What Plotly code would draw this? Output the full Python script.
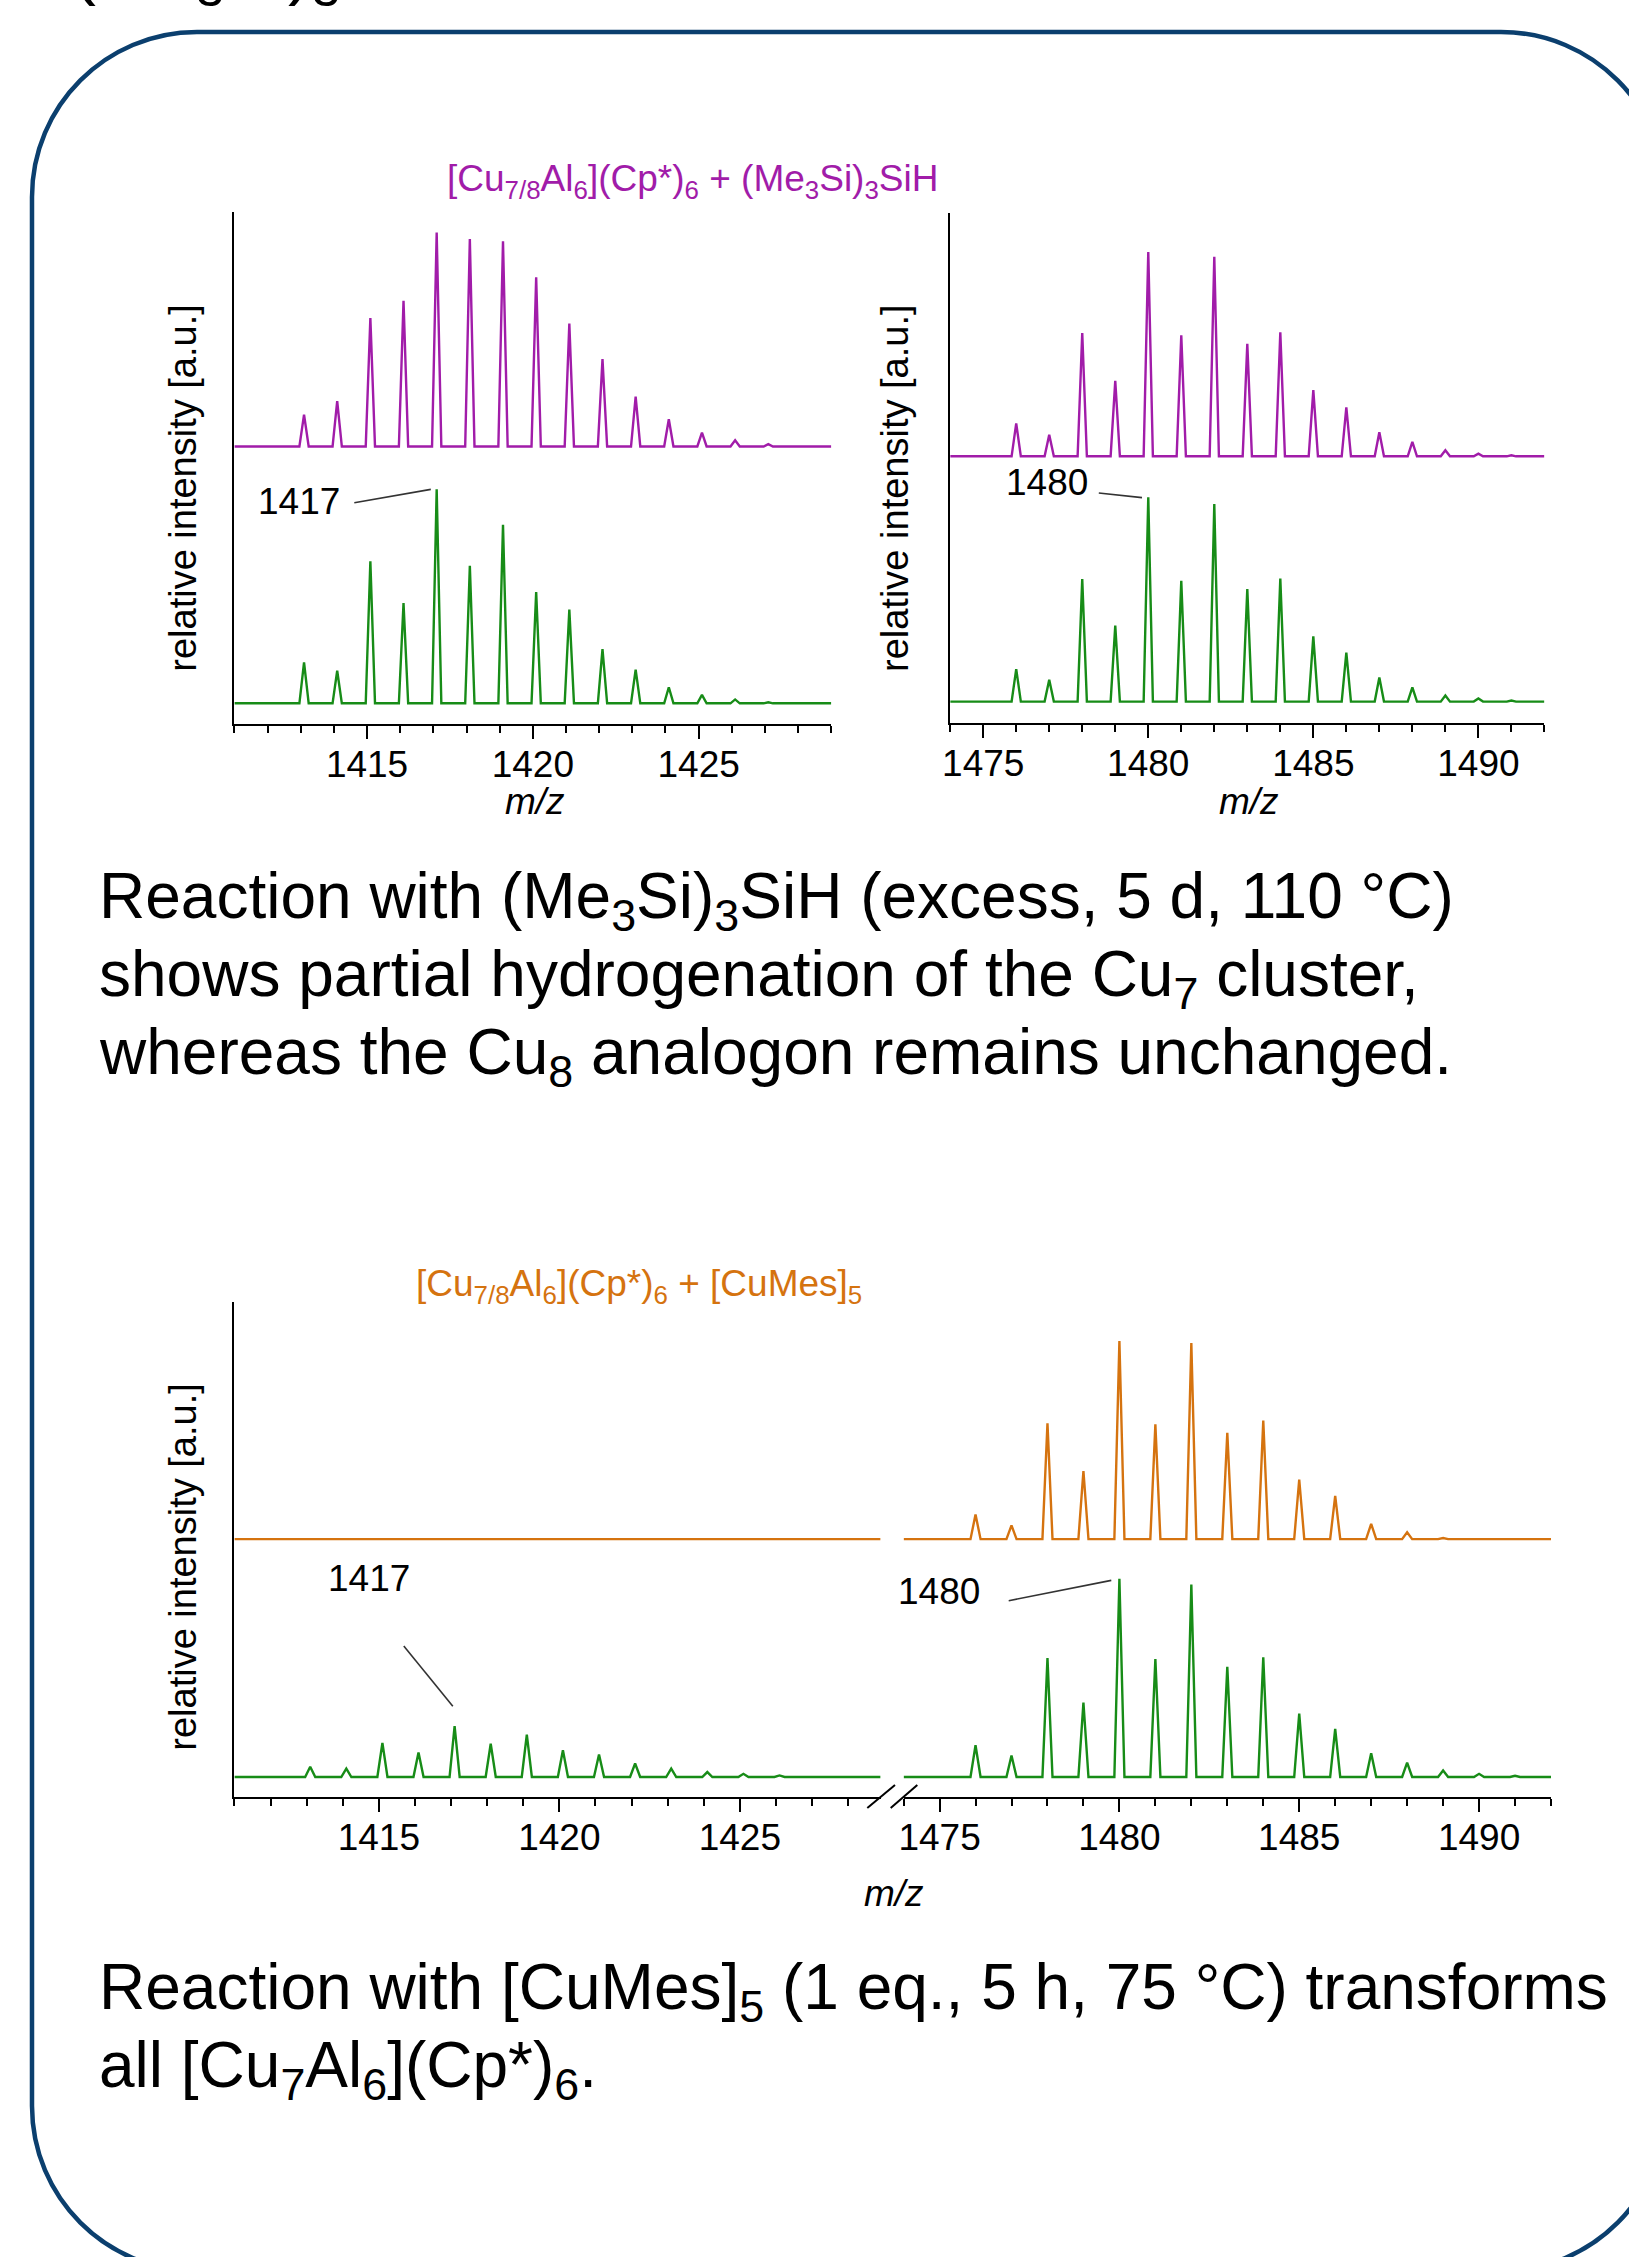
import plotly.graph_objects as go

W, H = 1629, 2257
FONT = "Liberation Sans, Arial, sans-serif"

# ---------------- data ----------------
# top panel, left segment (m/z ~ 1413-1427)
tl_mz = [1413.1, 1414.1, 1415.1, 1416.1, 1417.1, 1418.1, 1419.1, 1420.1,
         1421.1, 1422.1, 1423.1, 1424.1, 1425.1, 1426.1, 1427.1]
tl_silane = [14.9, 21.2, 60.0, 68.1, 100, 97.0, 95.9, 79.1, 57.4, 40.9, 23.3, 12.7, 6.5, 2.9, 1.1]
tl_ref = [19.1, 15.2, 66.4, 46.8, 100, 64.3, 83.4, 52.0, 43.8, 25.3, 15.7, 7.5, 3.9, 1.8, 0.5]

# top panel, right segment (m/z ~ 1476-1491)
tr_mz = [1476, 1477, 1478, 1479, 1480, 1481, 1482, 1483,
         1484, 1485, 1486, 1487, 1488, 1489, 1490, 1491]
tr_silane = [16.1, 10.5, 60.3, 36.9, 100, 59.2, 97.6, 55.0, 60.7, 32.4, 24.0, 11.8, 7.1, 3.0, 1.3, 0.5]
tr_ref = [15.9, 10.7, 59.9, 37.2, 100, 59.1, 96.6, 55.1, 60.2, 31.9, 24.0, 11.8, 7.0, 3.0, 1.5, 0.5]

# bottom panel (broken axis)
bl_mz = tl_mz
bl_ref = [5.2, 4.2, 17.2, 12.4, 25.7, 16.8, 21.4, 13.5, 11.4, 6.8, 4.2, 2.5, 1.6, 0.8, 0.3]
bl_mes = []  # no signal in the 1411-1429 window
bl_mes_mz = []
br_mz = tr_mz
br_ref = [16.0, 10.8, 60.0, 37.6, 100, 59.5, 97.1, 55.6, 60.4, 32.0, 24.3, 12.0, 7.3, 3.3, 1.6, 0.6]
br_mes_mz = [1476, 1477, 1478, 1479, 1480, 1481, 1482, 1483, 1484, 1485, 1486, 1487, 1488, 1489, 1490]
br_mes = [12.4, 7.0, 58.5, 34.4, 100, 57.9, 99.0, 53.7, 59.8, 30.1, 21.8, 7.7, 3.5, 0.6, 0.3]

left_ticks = [1415, 1420, 1425]
left_ticktext = ["1415", "1420", "1425"]
right_ticks = [1475, 1480, 1485, 1490]
right_ticktext = ["1475", "1480", "1485", "1490"]

labels_peaks = ["1417", "1480"]

# ---------------- styling ----------------
PURPLE = "#a11ca9"
GREEN = "#178c17"
ORANGE = "#d5730f"
BORDER = "#0b3f6e"
OFFSET = 120      # vertical stacking offset (units of relative intensity)
HW = 0.14         # half width of a drawn peak (m/z)


def px(x):
    return x / W


def py(y):
    return 1 - y / H


def profile(mz, inten, x0, x1, off):
    xs, ys = [x0], [off]
    for m, v in zip(mz, inten):
        xs += [m - HW, m, m + HW]
        ys += [off, off + v, off]
    xs.append(x1)
    ys.append(off)
    return xs, ys


fig = go.Figure()


def add(mz, inten, x0, x1, off, color, xa, ya):
    xs, ys = profile(mz, inten, x0, x1, off)
    fig.add_trace(go.Scatter(x=xs, y=ys, mode="lines", xaxis=xa, yaxis=ya,
                             line=dict(color=color, width=2.4), showlegend=False,
                             hoverinfo="skip"))


LR_TOP = [1411, 1429]
RR_TOP = [1474, 1492]
LR_BOT = [1411, 1428.9]
RR_BOT = [1474, 1492]

add(tl_mz, tl_silane, LR_TOP[0], LR_TOP[1], OFFSET, PURPLE, "x", "y")
add(tl_mz, tl_ref, LR_TOP[0], LR_TOP[1], 0, GREEN, "x", "y")
add(tr_mz, tr_silane, RR_TOP[0], RR_TOP[1], OFFSET, PURPLE, "x2", "y2")
add(tr_mz, tr_ref, RR_TOP[0], RR_TOP[1], 0, GREEN, "x2", "y2")
add(bl_mes_mz, bl_mes, LR_BOT[0], LR_BOT[1], OFFSET, ORANGE, "x3", "y3")
add(bl_mz, bl_ref, LR_BOT[0], LR_BOT[1], 0, GREEN, "x3", "y3")
add(br_mes_mz, br_mes, RR_BOT[0], RR_BOT[1], OFFSET, ORANGE, "x4", "y4")
add(br_mz, br_ref, RR_BOT[0], RR_BOT[1], 0, GREEN, "x4", "y4")


def xaxis(dom, rng, ticks, ttext, anchor):
    return dict(domain=[px(dom[0]), px(dom[1])], range=rng, anchor=anchor,
                showline=True, linecolor="black", linewidth=2,
                ticks="outside", ticklen=13, tickwidth=2, tickcolor="black",
                tickmode="array", tickvals=ticks, ticktext=ttext,
                tickfont=dict(family=FONT, size=37, color="black"),
                minor=dict(ticks="outside", dtick=1, tick0=1411, ticklen=7,
                           tickwidth=2, tickcolor="black", showgrid=False),
                showgrid=False, zeroline=False, fixedrange=True)


def yaxis(bottom, top, base, k, anchor, line=True):
    rng = [-(bottom - base) / k, (base - top) / k]
    return dict(domain=[py(bottom), py(top)], range=rng, anchor=anchor,
                showline=line, linecolor="black", linewidth=2, ticks="",
                showticklabels=False, showgrid=False, zeroline=False, fixedrange=True)


fig.update_layout(
    xaxis=xaxis([234.4, 831.3], LR_TOP, left_ticks, left_ticktext, "y"),
    yaxis=yaxis(723.6, 212, 703.3, 2.14, "x"),
    xaxis2=xaxis([950.2, 1544.4], RR_TOP, right_ticks, right_ticktext, "y2"),
    yaxis2=yaxis(722.7, 212.5, 701.6, 2.044, "x2"),
    xaxis3=xaxis([234.4, 880.6], LR_BOT, left_ticks, left_ticktext, "y3"),
    yaxis3=yaxis(1796.5, 1301.7, 1777, 1.982, "x3"),
    xaxis4=xaxis([903.6, 1551], RR_BOT, right_ticks, right_ticktext, "y4"),
    yaxis4=yaxis(1796.5, 1301.7, 1777, 1.982, "x4", line=False),
)

# pull tick labels slightly closer to the axis
for name in ["xaxis", "xaxis2", "xaxis3", "xaxis4"]:
    try:
        fig.layout[name].ticklabelstandoff = -6
    except Exception:
        pass

ann = []


def text(x, y, t, size, color="black", xanchor="center", yanchor="middle", angle=0, italic=False):
    ann.append(dict(x=px(x), y=py(y), xref="paper", yref="paper", text=t, showarrow=False,
                    xanchor=xanchor, yanchor=yanchor, textangle=angle,
                    font=dict(family=FONT, size=size, color=color,
                              style="italic" if italic else "normal")))


# cut-off text at very top
text(70, 19, "(Me<sub>3</sub>Si)<sub>3</sub>SiH", 72, xanchor="left", yanchor="bottom")

# panel titles
text(692, 181, "[Cu<sub>7/8</sub>Al<sub>6</sub>](Cp*)<sub>6</sub> + (Me<sub>3</sub>Si)<sub>3</sub>SiH", 37, PURPLE)
text(639, 1286, "[Cu<sub>7/8</sub>Al<sub>6</sub>](Cp*)<sub>6</sub> + [CuMes]<sub>5</sub>", 37, ORANGE)

# y titles
for (x, y) in [(182.7, 488), (895, 488), (182.7, 1567)]:
    text(x, y, "relative intensity [a.u.]", 38, angle=-90)

# m/z
for (x, y) in [(535, 801), (1249, 801), (893.5, 1893.5)]:
    text(x, y, "m/z", 37, italic=True)

# peak labels
text(299.4, 501.6, labels_peaks[0], 37)
text(1047, 482, labels_peaks[1], 37)
text(369, 1578.4, labels_peaks[0], 37)
text(939, 1591.9, labels_peaks[1], 37)

# captions
CAP = 64
text(97, 900, "Reaction with (Me<sub>3</sub>Si)<sub>3</sub>SiH (excess, 5 d, 110 °C)", CAP, xanchor="left")
text(97, 978, "shows partial hydrogenation of the Cu<sub>7</sub> cluster,", CAP, xanchor="left")
text(97, 1056, "whereas the Cu<sub>8</sub> analogon remains unchanged.", CAP, xanchor="left")
text(97, 1991, "Reaction with [CuMes]<sub>5</sub> (1 eq., 5 h, 75 °C) transforms", CAP, xanchor="left")
text(97, 2069, "all [Cu<sub>7</sub>Al<sub>6</sub>](Cp*)<sub>6</sub>.", CAP, xanchor="left")

shapes = []


def seg(x0, y0, x1, y1, color="#333333", width=1.6):
    shapes.append(dict(type="line", xref="paper", yref="paper",
                       x0=px(x0), y0=py(y0), x1=px(x1), y1=py(y1),
                       line=dict(color=color, width=width)))


seg(354.3, 502.8, 430.8, 489.4)
seg(1098.8, 493, 1142, 497.6)
seg(403.8, 1646, 452.8, 1706.2)
seg(1008.7, 1600.7, 1111.3, 1580.4)
# axis break marks
seg(867.3, 1808, 895, 1785, "black", 2)
seg(890.7, 1808, 917.3, 1785, "black", 2)

# rounded frame
L, T, R_, B = 32, 32, 1666, 2271
r = 165
k = 0.5523 * r


def P(x, y):
    return f"{px(x):.5f},{py(y):.5f}"


path = (f"M {P(L + r, T)} L {P(R_ - r, T)} "
        f"C {P(R_ - r + k, T)} {P(R_, T + r - k)} {P(R_, T + r)} "
        f"L {P(R_, B - r)} C {P(R_, B - r + k)} {P(R_ - r + k, B)} {P(R_ - r, B)} "
        f"L {P(L + r, B)} C {P(L + r - k, B)} {P(L, B - r + k)} {P(L, B - r)} "
        f"L {P(L, T + r)} C {P(L, T + r - k)} {P(L + r - k, T)} {P(L + r, T)} Z")
shapes.append(dict(type="path", xref="paper", yref="paper", path=path,
                   line=dict(color=BORDER, width=4.5), layer="below"))

fig.update_layout(width=W, height=H, margin=dict(l=0, r=0, t=0, b=0, autoexpand=False),
                  paper_bgcolor="white", plot_bgcolor="rgba(0,0,0,0)",
                  annotations=ann, shapes=shapes, showlegend=False,
                  font=dict(family=FONT, color="black"))

fig.write_html("out.html", config={"displayModeBar": False},
               post_script="document.body.style.margin='0';document.body.style.overflow='hidden';")
